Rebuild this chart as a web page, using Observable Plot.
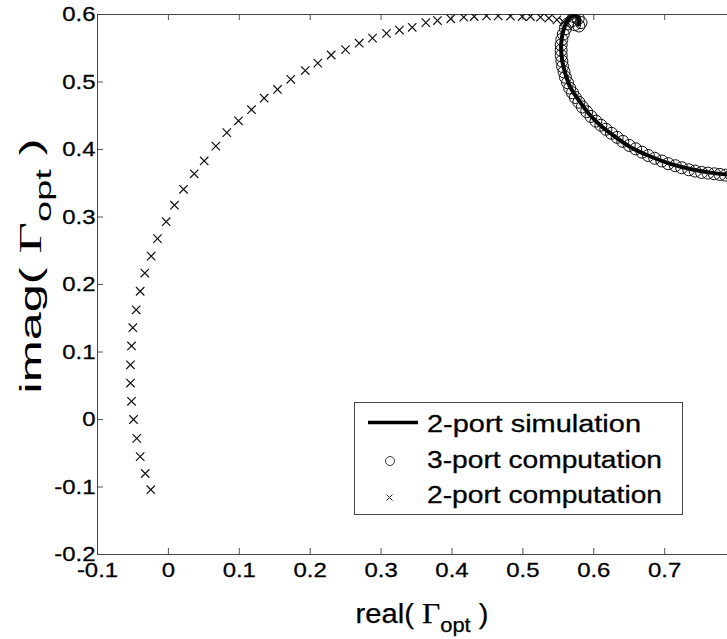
<!DOCTYPE html>
<html><head><meta charset="utf-8">
<script src="https://cdn.jsdelivr.net/npm/d3@7"></script>
<script src="https://cdn.jsdelivr.net/npm/@observablehq/plot@0.6"></script>
<style>
html,body{margin:0;padding:0;background:#fff;overflow:hidden;}
#chart{width:727px;height:639px;}
</style></head><body><div id="chart"></div>
<script>
// 2-port simulation (solid line)
const sim2X = [0.578, 0.580, 0.575, 0.568, 0.562, 0.557, 0.554, 0.5554, 0.560, 0.567, 0.579, 0.593, 0.6095, 0.628, 0.652, 0.680, 0.708, 0.741, 0.769, 0.789, 0.810];
const sim2Y = [0.585, 0.592, 0.5975, 0.597, 0.589, 0.576, 0.556, 0.532, 0.512, 0.492, 0.4726, 0.453, 0.4356, 0.4207, 0.4034, 0.3896, 0.3788, 0.370, 0.365, 0.363, 0.362];

// 3-port computation (circles)
const comp3X = [0.572,0.578,0.582,0.579,0.573,0.568,0.563,0.560,0.557,0.555,0.554,0.554,0.554,0.555,0.556,0.558,0.560,0.563,0.566,0.570,0.574,0.579,0.584,0.590,0.596,0.603,0.610,0.617,0.625,0.633,0.641,0.650,0.659,0.668,0.677,0.686,0.696,0.705,0.715,0.724,0.734,0.743,0.752,0.761,0.770,0.778,0.786,0.794];
const comp3Y = [0.597,0.594,0.588,0.583,0.585,0.590,0.586,0.579,0.571,0.563,0.555,0.547,0.539,0.531,0.523,0.515,0.507,0.499,0.491,0.484,0.477,0.470,0.463,0.456,0.449,0.442,0.436,0.430,0.424,0.418,0.412,0.406,0.401,0.396,0.391,0.387,0.383,0.379,0.376,0.373,0.370,0.368,0.366,0.365,0.364,0.363,0.362,0.362];

// 2-port computation (x markers)
const comp2X = [-0.0248,-0.0327,-0.0398,-0.0446,-0.0492,-0.052,-0.0535,-0.0535,-0.052,-0.0502,-0.0454,-0.0398,-0.0333,-0.0243,-0.0154,-0.0031,0.0086,0.0213,0.0364,0.0505,0.0669,0.0824,0.0989,0.1172,0.1351,0.1539,0.1726,0.193,0.2107,0.2296,0.2498,0.2691,0.2879,0.3076,0.3259,0.3439,0.3631,0.3795,0.3983,0.4166,0.4313,0.4487,0.4651,0.4825,0.499,0.5107,0.5248,0.5366,0.548,0.5573];
const comp2Y = [-0.104,-0.080,-0.055,-0.028,0.000,0.027,0.054,0.081,0.109,0.136,0.1625,0.190,0.217,0.242,0.268,0.293,0.3175,0.341,0.364,0.383,0.405,0.425,0.4425,0.459,0.476,0.489,0.504,0.517,0.528,0.540,0.548,0.5575,0.565,0.572,0.577,0.581,0.588,0.591,0.5936,0.596,0.597,0.598,0.598,0.5975,0.597,0.597,0.596,0.5945,0.592,0.589];

const xTicks = [-0.1, 0, 0.1, 0.2, 0.3, 0.4, 0.5, 0.6, 0.7];
const xTickLabels = ["-0.1","0","0.1","0.2","0.3","0.4","0.5","0.6","0.7"];
const yTicks = [-0.2, -0.1, 0, 0.1, 0.2, 0.3, 0.4, 0.5, 0.6];
const yTickLabels = ["-0.2","-0.1","0","0.1","0.2","0.3","0.4","0.5","0.6"];
const xDomain = [-0.1, 0.7886];
const yDomain = [-0.2, 0.6];
const seriesNames = ["2-port simulation", "3-port computation", "2-port computation"];
const xLabelParts = ["real( ", "\u0393", "opt", " )"];
const yLabelParts = ["imag( ", "\u0393", "opt", " )"];

const sim = sim2X.map((x, i) => ({x, y: sim2Y[i]}));
const comp3 = comp3X.map((x, i) => ({x, y: comp3Y[i]}));
const comp2 = comp2X.map((x, i) => ({x, y: comp2Y[i]}));
const fmt = (ticks, labels) => d => labels[ticks.findIndex(t => Math.abs(t - d) < 1e-9)] ?? "";

const plot = Plot.plot({
  width: 727, height: 639,
  marginLeft: 97, marginRight: 0, marginTop: 14, marginBottom: 85,
  style: {fontFamily: "'Liberation Sans', Arial, sans-serif", fontSize: "21px", color: "#000", background: "#fff"},
  x: {domain: xDomain, label: null},
  y: {domain: yDomain, label: null},
  marks: [
    Plot.axisX(xTicks, {anchor: "bottom", tickSize: -6, tickPadding: 14, tickFormat: fmt(xTicks, xTickLabels), stroke: "#555", fill: "#000", fontSize: 21, label: null}),
    Plot.axisX(xTicks, {anchor: "top", tickSize: -5, tickFormat: () => "", stroke: "#555", label: null}),
    Plot.axisY(yTicks, {anchor: "left", tickSize: -6, tickPadding: 8, tickFormat: fmt(yTicks, yTickLabels), stroke: "#555", fill: "#000", fontSize: 21, label: null}),
    Plot.ruleX([xDomain[0]], {stroke: "#444"}),
    Plot.ruleY(yDomain, {stroke: "#444"}),
    Plot.line(sim, {x: "x", y: "y", stroke: "#000", strokeWidth: 4, curve: "catmull-rom", clip: true}),
    Plot.dot(comp3, {x: "x", y: "y", r: 6, symbol: "circle", fill: "none", stroke: "#111", strokeWidth: 1, clip: true}),
    Plot.dot(comp2, {x: "x", y: "y", r: 3.9, symbol: "times", stroke: "#111", strokeWidth: 1.2, clip: true})
  ]
});
document.getElementById("chart").append(plot);
const svg = d3.select(plot);

function stretch(sel, k) {
  sel.each(function() {
    const l = this.getComputedTextLength();
    if (l > 0) { this.setAttribute("textLength", l * k); this.setAttribute("lengthAdjust", "spacingAndGlyphs"); }
  });
}
const tickText = svg.selectAll("g[aria-label='x-axis tick label'] text, g[aria-label='y-axis tick label'] text");
tickText.attr("stroke", "#000").attr("stroke-width", 0.3);
stretch(tickText, 1.14);

function richLabel(parts, x, y, rotate, size, len, sw) {
  const t = svg.append("text")
    .attr("transform", `translate(${x},${y})` + (rotate ? " rotate(-90)" : ""))
    .attr("text-anchor", "middle")
    .attr("font-family", "'Liberation Sans', Arial, sans-serif")
    .attr("font-size", size).attr("fill", "#000").attr("stroke", "#000").attr("stroke-width", sw);
  t.append("tspan").text(parts[0]);
  t.append("tspan").attr("font-family", "'Liberation Serif', 'Times New Roman', serif").attr("font-size", size * 1.08).text(parts[1]);
  t.append("tspan").attr("font-size", size * 0.75).attr("dy", size * 0.33).text(parts[2]);
  t.append("tspan").attr("dy", -size * 0.33).text(parts[3]);
  t.attr("textLength", len).attr("lengthAdjust", "spacingAndGlyphs");
}
richLabel(xLabelParts, 422, 623, false, 27, 133, 0.25);
richLabel(yLabelParts, 41, 266, true, 29, 255, 0);

// legend
const lg = svg.append("g").attr("aria-label", "legend");
lg.append("rect").attr("x", 354.5).attr("y", 402.5).attr("width", 328).attr("height", 112)
  .attr("fill", "#fff").attr("stroke", "#444").attr("stroke-width", 1);
lg.append("line").attr("x1", 368).attr("x2", 418).attr("y1", 422.5).attr("y2", 422.5).attr("stroke", "#000").attr("stroke-width", 3.5);
lg.append("circle").attr("cx", 390).attr("cy", 461).attr("r", 4.5).attr("fill", "none").attr("stroke", "#222").attr("stroke-width", 0.9);
lg.append("path").attr("d", "M386.5,494.5L392.5,500.5M392.5,494.5L386.5,500.5").attr("stroke", "#222").attr("stroke-width", 1);
const rowsY = [431.5, 468, 503];
const rowWidths = [214, 235, 235];
seriesNames.forEach((s, i) => {
  lg.append("text").attr("x", 427).attr("y", rowsY[i]).attr("text-anchor", "start")
    .attr("font-family", "'Liberation Sans', Arial, sans-serif").attr("font-size", 23.5)
    .attr("fill", "#000").attr("stroke", "#000").attr("stroke-width", 0.3)
    .attr("textLength", rowWidths[i]).attr("lengthAdjust", "spacingAndGlyphs").text(s);
});
</script>
</body></html>
